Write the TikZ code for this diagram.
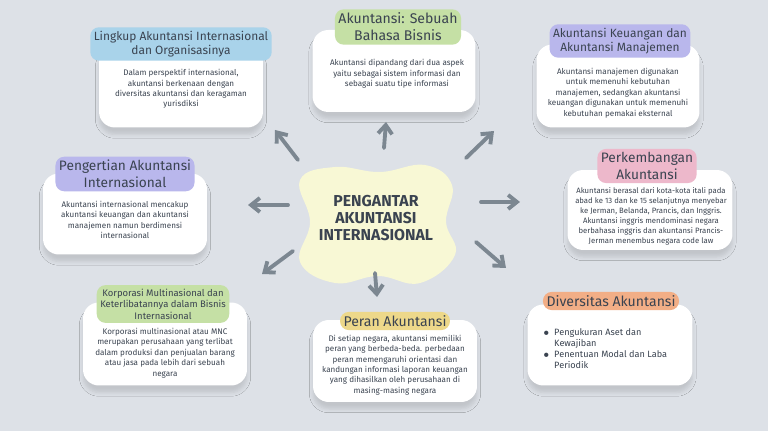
\documentclass[tikz,border=0pt]{standalone}
\usepackage{fontspec}
\setmainfont{Fira Sans}
\usepackage{tikz}
\usetikzlibrary{arrows.meta, shadows.blur}

\definecolor{bgGray}{HTML}{DDE1E7}
\definecolor{inkDark}{HTML}{3A4350}
\definecolor{arrowGray}{HTML}{7C8791}
\definecolor{tagBlue}{HTML}{A9D3EA}
\definecolor{tagGreen}{HTML}{C5E0A5}
\definecolor{tagPurple}{HTML}{B9B7EC}
\definecolor{tagPink}{HTML}{EDB8CB}
\definecolor{tagYellow}{HTML}{EDD88A}
\definecolor{tagOrange}{HTML}{F2AE86}
\definecolor{blobYellow}{HTML}{F8F8D5}

\begin{document}
\begin{tikzpicture}[%
        x = 0.02cm,
        y = -0.02cm,
        card/.style = {fill=white, rounded corners=9pt, inner sep=0pt,
            blur shadow={shadow blur steps=5, shadow opacity=12, shadow yshift=-4pt, shadow xshift=0pt}},
        tag/.style = {rounded corners=5pt, inner sep=2pt, align=center,
            text=inkDark, font=\fontsize{6.8}{8.3}\selectfont},
        body/.style = {align=center, text=inkDark, font=\fontsize{4.6}{5.9}\selectfont},
        link/.style = {-{Straight Barb[length=5pt, width=8pt]}, line width=2.2pt,
            draw=arrowGray, line cap=round}
    ]

        % Background.
        \fill[bgGray] (0, 0) rectangle (768, 431);

        % Central blob and title.
        \fill[blobYellow] plot[smooth cycle, tension=0.7] coordinates {%
            (300, 180) (335, 167) (380, 172) (425, 165) (452, 185)
            (446, 222) (455, 255) (420, 283) (378, 276) (335, 283)
            (300, 262) (310, 222)};
        \node[align=center, text=inkDark, font=\bfseries\fontsize{9}{9.5}\selectfont]
            (center) at (376, 218) {PENGANTAR\\AKUNTANSI\\INTERNASIONAL};

        % Cards.
        \node[card, minimum width=3.28cm, minimum height=1.66cm] (lingkup) at (181, 86) {};
        \node[card, minimum width=3.26cm, minimum height=1.64cm] (bahasa) at (394, 71) {};
        \node[card, minimum width=3.26cm, minimum height=1.66cm] (keuangan) at (618, 86) {};
        \node[card, minimum width=3.28cm, minimum height=1.62cm] (pengertian) at (125, 214) {};
        \node[card, minimum width=3.30cm, minimum height=1.60cm] (perkembangan) at (650, 210) {};
        \node[card, minimum width=3.28cm, minimum height=1.66cm] (korporasi) at (165, 344) {};
        \node[card, minimum width=3.28cm, minimum height=1.64cm] (peran) at (395, 361) {};
        \node[card, minimum width=3.30cm, minimum height=1.62cm] (diversitas) at (610, 345) {};

        % Tags on top of the cards.
        \node[tag, fill=tagBlue] (lingkupTag) at (181, 44) {Lingkup Akuntansi Internasional\\dan Organisasinya};
        \node[tag, fill=tagGreen, font=\fontsize{8}{9.8}\selectfont] (bahasaTag) at (398, 27) {Akuntansi: Sebuah\\Bahasa Bisnis};
        \node[tag, fill=tagPurple] (keuanganTag) at (620, 41) {Akuntansi Keuangan dan\\Akuntansi Manajemen};
        \node[tag, fill=tagPurple, font=\fontsize{7.8}{9.5}\selectfont] (pengertianTag) at (125, 174) {Pengertian Akuntansi\\Internasional};
        \node[tag, fill=tagPink, font=\fontsize{7.8}{9.5}\selectfont] (perkembanganTag) at (647, 166) {Perkembangan\\Akuntansi};
        \node[tag, fill=tagGreen, font=\fontsize{5.4}{6.6}\selectfont] (korporasiTag) at (163, 304) {Korporasi Multinasional dan\\Keterlibatannya dalam Bisnis\\Internasional};
        \node[tag, fill=tagYellow, font=\fontsize{8}{10}\selectfont] (peranTag) at (395, 321) {Peran Akuntansi};
        \node[tag, fill=tagOrange, font=\fontsize{8}{10}\selectfont] (diversitasTag) at (611, 301) {Diversitas Akuntansi};

        % Card texts.
        \node[body] (lingkupText) at (181, 89) {Dalam perspektif internasional,\\akuntansi berkenaan dengan\\diversitas akuntansi dan keragaman\\yurisdiksi};
        \node[body] (bahasaText) at (397, 74) {Akuntansi dipandang dari dua aspek\\yaitu sebagai sistem informasi dan\\sebagai suatu tipe informasi};
        \node[body] (keuanganText) at (618, 93) {Akuntansi manajemen digunakan\\untuk memenuhi kebutuhan\\manajemen, sedangkan akuntansi\\keuangan digunakan untuk memenuhi\\kebutuhan pemakai eksternal};
        \node[body] (pengertianText) at (125, 220) {Akuntansi internasional mencakup\\akuntansi keuangan dan akuntansi\\manajemen namun berdimensi\\internasional};
        \node[body, font=\fontsize{4.4}{5.7}\selectfont] (perkembanganText) at (651, 216) {Akuntansi berasal dari kota-kota itali pada\\abad ke 13 dan ke 15 selanjutnya menyebar\\ke Jerman, Belanda, Prancis, dan Inggris.\\Akuntansi inggris mendominasi negara\\berbahasa inggris dan akuntansi Prancis-\\Jerman menembus negara code law};
        \node[body] (korporasiText) at (165, 353) {Korporasi multinasional atau MNC\\merupakan perusahaan yang terlibat\\dalam produksi dan penjualan barang\\atau jasa pada lebih dari sebuah\\negara};
        \node[body] (peranText) at (395, 365) {Di setiap negara, akuntansi memiliki\\peran yang berbeda-beda. perbedaan\\peran memengaruhi orientasi dan\\kandungan informasi laporan keuangan\\yang dihasilkan oleh perusahaan di\\masing-masing negara};
        \node[body, align=left, anchor=north west, font=\fontsize{5.2}{6.4}\selectfont] (diversitasText) at (537, 322)
            {$\bullet$\enspace Pengukuran Aset dan\\\phantom{$\bullet$\enspace}Kewajiban\\$\bullet$\enspace Penentuan Modal dan Laba\\\phantom{$\bullet$\enspace}Periodik};

        % Arrow end points.
        \coordinate (toLingkup) at (275, 130);
        \coordinate (toBahasa) at (386, 122);
        \coordinate (toKeuangan) at (494, 131);
        \coordinate (toPengertian) at (248, 205);
        \coordinate (toPerkembangan) at (520, 202);
        \coordinate (toKorporasi) at (262, 274);
        \coordinate (toPeran) at (377, 297);
        \coordinate (toDiversitas) at (506, 268);

        % Arrows from the centre.
        \draw[link] (center) ++(-78, -58) to (toLingkup);
        \draw[link] (center) ++(8, -70) to (toBahasa);
        \draw[link] (center) ++(90, -60) to (toKeuangan);
        \draw[link] (center) ++(-88, -13) to (toPengertian);
        \draw[link] (center) ++(105, -16) to (toPerkembangan);
        \draw[link] (center) ++(-83, 33) to (toKorporasi);
        \draw[link] (center) ++(-1, 55) to (toPeran);
        \draw[link] (center) ++(100, 24) to (toDiversitas);
    \end{tikzpicture}
\end{document}
